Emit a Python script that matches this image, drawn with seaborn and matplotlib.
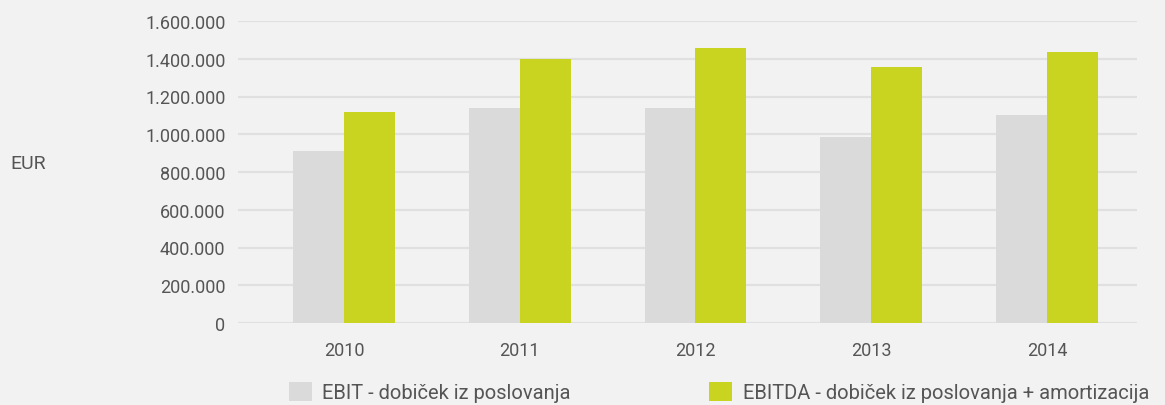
import matplotlib
matplotlib.use("Agg")
import matplotlib.pyplot as plt
import pandas as pd
import seaborn as sns
from matplotlib.ticker import FuncFormatter

YEARS = ["2010", "2011", "2012", "2013", "2014"]
EBIT = [910000, 1140000, 1140000, 985000, 1100000]
EBITDA = [1118000, 1400000, 1457000, 1356000, 1436000]
SERIES = ["EBIT - dobiček iz poslovanja", "EBITDA - dobiček iz poslovanja + amortizacija"]
COLORS = ["#dadada", "#c9d420"]

BG = "#f2f2f2"
TXT = "#555555"

df = pd.DataFrame({
    "year": YEARS * 2,
    "value": EBIT + EBITDA,
    "series": [SERIES[0]] * len(YEARS) + [SERIES[1]] * len(YEARS),
})

sns.set_style("white")
plt.rcParams["font.family"] = ["Roboto", "DejaVu Sans"]

W, H = 1165, 406
fig = plt.figure(figsize=(W / 100, H / 100), dpi=100, facecolor=BG)
# axes placed by pixel bounds: x 238..1137, y 22..324
ax = fig.add_axes([238 / W, 1 - 324 / H, (1137 - 238) / W, (324 - 22) / H])
ax.set_facecolor(BG)

sns.barplot(data=df, x="year", y="value", hue="series", palette=COLORS,
            width=0.58, saturation=1, linewidth=0, ax=ax, zorder=3)

ax.set_ylim(0, 1600000)
ax.set_yticks(range(0, 1600001, 200000))
ax.yaxis.set_major_formatter(FuncFormatter(lambda v, p: f"{int(v):,}".replace(",", ".")))
ax.set_xlim(-0.603, 4.512)
ax.grid(axis="y", color="#e0e0e0", linewidth=1.6, zorder=0)
ax.set_axisbelow(True)
for s in ax.spines.values():
    s.set_visible(False)
ax.tick_params(axis="both", length=0, labelsize=13, labelcolor=TXT)
ax.tick_params(axis="y", pad=9)
ax.tick_params(axis="x", pad=13)
ax.set_xlabel("")
ax.set_ylabel("")

fig.text(10 / W, 1 - 164 / H, "EUR", fontsize=14, color=TXT, va="center", ha="left")

handles, labels = ax.get_legend_handles_labels()
ax.get_legend().remove()
fig.legend(handles, labels, loc="center left", bbox_to_anchor=(289 / W, 1 - 393 / H),
           ncol=2, frameon=False, handlelength=1.14, handleheight=1.14,
           handletextpad=0.5, columnspacing=6.9, borderpad=0, borderaxespad=0,
           labelcolor=TXT, prop={"size": 14.5})

fig.savefig("out.png", dpi=100, facecolor=BG)
